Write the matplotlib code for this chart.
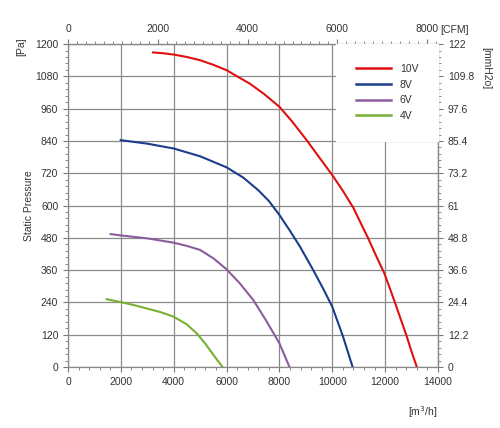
import matplotlib.pyplot as plt
from matplotlib.ticker import MultipleLocator, FixedLocator

plt.rcParams['font.family'] = ['Liberation Sans', 'DejaVu Sans']

# Data (flow in m3/h, static pressure in Pa)
flow_10v = [3215, 3600, 4000, 4500, 5000, 5500, 6000, 6400, 6880, 7400, 8000, 8500, 9030,
            9500, 10000, 10400, 10800, 11100, 11360, 11650, 11970, 12180, 12380, 12600,
            12820, 13000, 13200]
pres_10v = [1169, 1166, 1161, 1152, 1140, 1123, 1103, 1080, 1053, 1016, 967, 910, 843,
            780, 713, 655, 591, 530, 478, 415, 348, 292, 237, 175, 113, 57, 0]

flow_8v = [1994, 3000, 4000, 5000, 6000, 6630, 7200, 7600, 8000, 8400, 8780, 9280, 9650,
           10000, 10400, 10770]
pres_8v = [843, 830, 812, 783, 742, 704, 657, 617, 565, 506, 447, 360, 292, 224, 115, 0]

flow_6v = [1615, 2000, 3000, 4000, 4500, 5000, 5500, 6000, 6500, 7010, 7500, 8000, 8380]
pres_6v = [494, 489, 478, 462, 450, 435, 404, 363, 311, 249, 172, 88, 0]

flow_4v = [1464, 2000, 2500, 3000, 3500, 4000, 4500, 4870, 5200, 5370, 5600, 5850]
pres_4v = [252, 241, 230, 217, 204, 187, 158, 125, 86, 63, 32, 0]

labels = ["10V", "8V", "6V", "4V"]
colors = ["#e01010", "#1c3c8c", "#8c5c9c", "#78b034"]

cfm_ticks = [0, 2000, 4000, 6000, 8000]
mmh2o_labels = ["0", "12.2", "24.4", "36.6", "48.8", "61", "73.2", "85.4", "97.6", "109.8", "122"]

M3H_PER_CFM = 1.699
tc = "#333333"

fig = plt.figure(figsize=(5, 4.28), dpi=100)
ax = fig.add_axes([0.136, 0.1425, 0.74, 0.7545])

for fx, py, lab, col in zip([flow_10v, flow_8v, flow_6v, flow_4v],
                            [pres_10v, pres_8v, pres_6v, pres_4v], labels, colors):
    ax.plot(fx, py, color=col, lw=1.5, label=lab, zorder=3, solid_joinstyle='round')

ax.set_xlim(0, 14000)
ax.set_ylim(0, 1200)
ax.set_xticks(range(0, 14001, 2000))
ax.set_yticks(range(0, 1201, 120))
ax.xaxis.set_minor_locator(MultipleLocator(400))
ax.yaxis.set_minor_locator(MultipleLocator(24))
ax.grid(True, which='major', color='#8a8a8a', lw=0.9)
ax.set_axisbelow(True)
ax.tick_params(which='both', direction='out', colors='#777777', labelcolor=tc, labelsize=7.5)
ax.tick_params(which='major', length=3.5)
ax.tick_params(which='minor', length=2.5)
for s in ax.spines.values():
    s.set_color('#888888')
    s.set_linewidth(0.9)

ax.set_ylabel("Static Pressure", fontsize=7.5, color=tc, labelpad=1)

# top axis in CFM
top = ax.secondary_xaxis('top', functions=(lambda x: x / M3H_PER_CFM, lambda c: c * M3H_PER_CFM))
top.xaxis.set_major_locator(FixedLocator(cfm_ticks))
top.xaxis.set_minor_locator(MultipleLocator(200))
top.tick_params(which='both', direction='out', colors='#777777', labelcolor=tc, labelsize=7.5)
top.tick_params(which='major', length=3.5)
top.tick_params(which='minor', length=2.5)
top.spines['top'].set_color('#888888')

# right axis in mmH2O
mm_max = float(mmh2o_labels[-1])
right = ax.secondary_yaxis('right', functions=(lambda p: p * mm_max / 1200, lambda m: m * 1200 / mm_max))
right.yaxis.set_major_locator(FixedLocator([float(v) for v in mmh2o_labels]))
right.set_yticklabels(mmh2o_labels)
right.yaxis.set_minor_locator(MultipleLocator(mm_max / 50))
right.tick_params(which='both', direction='out', colors='#777777', labelcolor=tc, labelsize=7.5)
right.tick_params(which='major', length=3.5)
right.tick_params(which='minor', length=2.5)
right.spines['right'].set_color('#888888')

fig.text(0.042, 0.89, "[Pa]", rotation=90, ha='center', va='center', fontsize=7.5, color=tc)
fig.text(0.972, 0.84, "[mmH2o]", rotation=270, ha='center', va='center', fontsize=7.5, color=tc)
fig.text(0.88, 0.93, "[CFM]", ha='left', va='center', fontsize=7.5, color=tc)
fig.text(0.845, 0.038, "[m$^3$/h]", ha='center', va='center', fontsize=7.5, color=tc)

leg = ax.legend(loc='upper right', bbox_to_anchor=(1, 1), borderaxespad=0, frameon=True,
                fancybox=False, edgecolor='white', facecolor='white', framealpha=1,
                fontsize=7.5, handlelength=3.4, labelspacing=0.55, borderpad=1.9,
                handletextpad=0.8)
for t in leg.get_texts():
    t.set_color(tc)
for h in leg.get_lines():
    h.set_linewidth(1.8)

fig.savefig("out.png", dpi=100)
